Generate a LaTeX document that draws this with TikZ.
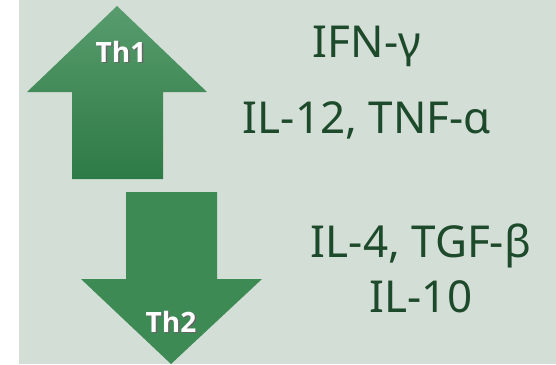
\documentclass[tikz,border=0pt]{standalone}
\usepackage{fontspec}
\setmainfont{Noto Sans}
\newfontfamily\thfont{Open Sans}[BoldFont={Open Sans Bold}]
\usetikzlibrary{shadings}
\definecolor{panel}{HTML}{D3DED6}
\definecolor{inkgreen}{HTML}{1E4A2C}
\definecolor{arrowtop}{HTML}{589C6D}
\definecolor{arrowbottom}{HTML}{2E7A46}
\definecolor{arrowflat}{HTML}{3E8A55}
% white label with a soft dark drop shadow
\newcommand{\shadowlabel}[1]{\rlap{\kern1.5pt\raisebox{-1.5pt}{\color{black!60}#1}}#1}
\tikzset{
  cytokine/.style={anchor=base, text=inkgreen, font=\fontsize{44}{48}\selectfont, inner sep=0pt},
  thlabel/.style={anchor=base, text=white, font=\thfont\bfseries\fontsize{28}{32}\selectfont, inner sep=0pt},
}
\begin{document}
\begin{tikzpicture}[x=1pt,y=-1pt]
  \useasboundingbox (0,0) rectangle (556,364);
  \fill[white] (0,0) rectangle (556,364);
  \fill[panel] (19,0) rectangle (556,364);

  % upward Th1 arrow with vertical gradient
  \shade[top color=arrowtop, bottom color=arrowbottom]
    (117,6) -- (207,92) -- (163,92) -- (163,179) -- (72,179) -- (72,92) -- (27,92) -- cycle;
  % downward Th2 arrow
  \fill[arrowflat]
    (126,192) -- (217,192) -- (217,279) -- (262,279) -- (171,364) -- (81,279) -- (126,279) -- cycle;

  \node[thlabel] (th1) at (121,62) {\shadowlabel{Th1}};
  \node[thlabel] (th2) at (171,332) {\shadowlabel{Th2}};

  \node[cytokine] (ifn) at (367,57) {IFN-γ};
  \node[cytokine] (il12) at (367,133) {IL-12, TNF-α};
  \node[cytokine] (il4) at (421,257) {IL-4, TGF-β};
  \node[cytokine] (il10) at (421,312) {IL-10};
\end{tikzpicture}
\end{document}
